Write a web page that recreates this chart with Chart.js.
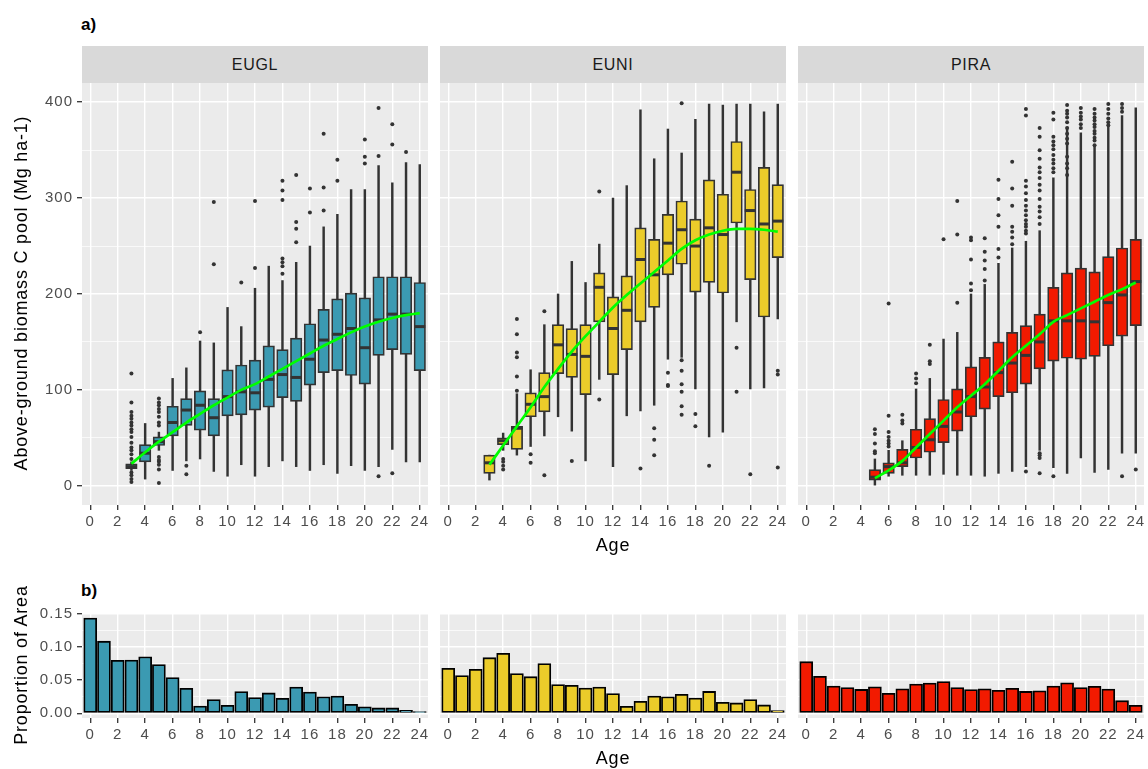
<!DOCTYPE html>
<html lang="en">
<head>
<meta charset="UTF-8">
<title>Above-ground biomass C pool and proportion of area by age</title>
<script src="https://cdn.jsdelivr.net/npm/chart.js@4"></script>
<style>
  body { margin: 0; background: #fff; font-family: "Liberation Sans", Arial, sans-serif; }
  #page { position: relative; width: 1148px; height: 769px; overflow: hidden; }
  canvas { position: absolute; }
  .lbl { position: absolute; white-space: nowrap; line-height: 1; color: #000; }
  .tag { font-weight: bold; font-size: 17px; }
  .title { font-size: 18px; letter-spacing: 0.8px; transform: translate(-50%, -50%); }
  .ytitle { font-size: 18px; letter-spacing: 0.8px; transform: translate(-50%, -50%) rotate(-90deg); }
  .strip { position: absolute; top: 46px; height: 37px; width: 346px; background: #D9D9D9; color: #1A1A1A;
           font-size: 16px; line-height: 37px; text-align: center; letter-spacing: 0.7px; }
</style>
</head>
<body>
<div id="page">
  <canvas id="boxEUGL" width="434" height="457" style="left:0px;top:83px"></canvas>
  <canvas id="boxEUNI" width="358" height="457" style="left:434px;top:83px"></canvas>
  <canvas id="boxPIRA" width="358" height="457" style="left:792px;top:83px"></canvas>
  <canvas id="barEUGL" width="434" height="150" style="left:0px;top:603px"></canvas>
  <canvas id="barEUNI" width="358" height="150" style="left:434px;top:603px"></canvas>
  <canvas id="barPIRA" width="358" height="150" style="left:792px;top:603px"></canvas>

  <div class="lbl tag" style="left:81px;top:16px">a)</div>
  <div class="lbl tag" style="left:81px;top:582px">b)</div>
  <div class="strip" style="left:82px">EUGL</div>
  <div class="strip" style="left:440px">EUNI</div>
  <div class="strip" style="left:798px">PIRA</div>
  <div class="lbl ytitle" style="left:21px;top:293px">Above-ground biomass C pool (Mg ha-1)</div>
  <div class="lbl ytitle" style="left:21px;top:665px">Proportion of Area</div>
  <div class="lbl title" style="left:613px;top:545px">Age</div>
  <div class="lbl title" style="left:613px;top:758px">Age</div>
</div>

<script>
// ---- data ----
const xTicks = [0, 2, 4, 6, 8, 10, 12, 14, 16, 18, 20, 22, 24];
const yTicksTop = [0, 50, 100, 150, 200, 250, 300, 350, 400];
const yTicksBottom = [0, 0.025, 0.05, 0.075, 0.1, 0.125, 0.15];

// EUGL boxplots (age 3..24)
const euglAge = [3,4,5,6,7,8,9,10,11,12,13,14,15,16,17,18,19,20,21,22,23,24];
const euglLo  = [16,7,37,16,26,28,15,10,22,10,20,26,20,16,22,13,21,16,20,38,25,25];
const euglQ1  = [18,25,42,52,63,58,52,73,74,79,82,92,88,105,118,120,115,106,136,142,137,120];
const euglMed = [20,34,46,66,79,84,71,93,98,97,111,116,113,132,152,158,164,144,173,179,179,166];
const euglQ3  = [23,43,51,83,91,99,91,121,126,131,146,142,154,169,184,195,201,196,218,218,218,212];
const euglHi  = [25,65,56,112,123,151,149,186,166,206,229,214,233,250,270,283,309,309,334,316,337,335];
const euglOut = [
  [3, [117,87,77,73,70,66,63,59,56,51,45,40,37,33,28,14,11,7,4]],
  [5, [91,87,84,80,77,72,66,63,30,27,25,22,17,3]],
  [7, [21,12]], [8, [160]], [9, [231,296]], [11, [212]], [12, [227,297]],
  [14, [318,308,298,237,233,229,221]], [15, [324,275,268,254]], [16, [310,285]],
  [17, [367,311,287]], [18, [340,318]], [20, [361,343,336]], [21, [394,344,10]],
  [22, [377,356,13]], [23, [348]]
];
const euglSmooth = [23,35,46,56,66,75,84,92,100,106,114,122,130,138,146,153,160,166,171,175,178,180];

// EUNI boxplots (age 3..24)
const euniAge = [3,4,5,6,7,8,9,10,11,12,13,14,15,16,17,18,19,20,21,22,23,24];
const euniLo  = [6,37,32,41,52,72,57,26,111,20,73,78,84,132,134,101,51,56,171,101,102,174];
const euniQ1  = [13,43,38,72,77,117,113,95,171,116,142,171,186,220,231,202,212,201,274,215,176,238];
const euniMed = [24,47,60,85,93,147,137,135,207,164,183,236,220,253,267,250,269,262,327,287,273,276];
const euniQ3  = [32,50,62,97,118,168,164,168,222,197,219,269,257,283,297,278,319,304,359,309,332,314];
const euniHi  = [32,55,96,121,168,200,234,212,252,300,313,392,341,372,347,382,398,397,398,398,390,398];
const euniOut = [
  [4, [28,25,21,17]], [5, [174,158,139,134,114,99]], [6, [33,24]], [7, [182,11]],
  [9, [26]], [11, [307,90]], [14, [18]], [15, [60,48,32]], [16, [118,105,104]],
  [17, [399,131,120,106,98,83,74]], [18, [75,62]], [19, [21]], [21, [144,98]],
  [22, [12]], [24, [120,116,19]]
];
const euniSmooth = [22,42,62,82,103,122,140,156,171,186,199,211,223,235,247,256,262,266,268,268,267,265];

// PIRA boxplots (age 5..24)
const piraAge = [5,6,7,8,9,10,11,12,13,14,15,16,17,18,19,20,21,22,23,24];
const piraLo  = [0,10,11,11,11,12,11,11,10,13,15,20,37,19,13,29,14,17,34,34];
const piraQ1  = [6,13,20,29,35,45,57,72,80,93,97,106,122,130,133,132,135,146,156,167];
const piraMed = [9,20,24,40,48,62,77,93,103,118,128,136,150,172,172,172,171,191,199,213];
const piraQ3  = [17,24,38,59,70,90,101,124,134,150,160,167,179,207,222,227,223,239,248,257];
const piraHi  = [28,37,47,101,112,153,160,200,210,232,248,255,266,321,374,368,354,375,386,394];
const piraOut = [
  [5, [59,54,44,36,34]], [6, [190,73,56,51,47,44,41]], [7, [74,68,65]],
  [8, [117,112,107]], [9, [147,130,127]], [10, [257]], [11, [297,262,191]],
  [12, [259,256,236,211,204]], [13, [258,244,235,226,214]],
  [14, [319,299,282,270,247,238]], [15, [338,310,292,270,265,259,252]],
  [16, [393,386,318,312,305,298,292,287,282,277,273,270,266,263,15]],
  [17, [373,364,350,341,332,327,321,314,308,299,291,286,280,273,34,32,29,13]],
  [18, [389,382,364,359,355,351,345,340,336,331,327,10]],
  [19, [397,391,388,384,379,373,367,362,357,343,336,331,324]],
  [20, [394,389,385,382,377,373]],
  [21, [393,388,384,381,377,374,370,367,363,360,355]],
  [22, [398,393,388,383,379,376]], [23, [398,394,390,10]], [24, [17]]
];
const piraSmooth = [8,16,26,40,54,68,82,94,106,120,134,146,158,171,178,185,192,199,205,212];

// Proportion of area (age 0..24)
const areaAge  = [0,1,2,3,4,5,6,7,8,9,10,11,12,13,14,15,16,17,18,19,20,21,22,23,24];
const euglArea = [0.144,0.109,0.080,0.0805,0.0855,0.0735,0.054,0.0377,0.011,0.0206,0.012,0.0327,0.0237,0.0307,0.0226,0.0397,0.032,0.025,0.026,0.0136,0.0096,0.008,0.008,0.0045,0.0025];
const euniArea = [0.068,0.057,0.0664,0.084,0.0905,0.060,0.0553,0.075,0.0433,0.0423,0.0382,0.0397,0.0297,0.0106,0.018,0.026,0.025,0.0287,0.023,0.033,0.0166,0.0156,0.0206,0.0126,0.004];
const piraArea = [0.078,0.0558,0.0412,0.0387,0.036,0.040,0.030,0.037,0.044,0.0458,0.048,0.0387,0.0357,0.037,0.0347,0.0377,0.033,0.034,0.041,0.046,0.0387,0.0407,0.0367,0.019,0.012];

// ---- chart setup ----
const FONT = "'Liberation Sans', Arial, sans-serif";
const TICK_FONT = { family: FONT, size: 15 };

const panelBg = {
  id: 'panelBg',
  beforeDraw(chart) {
    const { ctx, chartArea: a } = chart;
    ctx.letterSpacing = '1px';
    ctx.save();
    ctx.fillStyle = '#EBEBEB';
    ctx.fillRect(a.left, a.top, a.right - a.left, a.bottom - a.top);
    ctx.restore();
  }
};

function xAxis() {
  return {
    type: 'linear', min: -0.6, max: 24.6, offset: false, bounds: 'data',
    afterBuildTicks: s => { s.ticks = xTicks.map(v => ({ value: v })); },
    afterFit: s => { s.height = 35; s.paddingLeft = 0; s.paddingRight = 0; },
    ticks: { color: '#4D4D4D', font: TICK_FONT, padding: 3, maxRotation: 0, autoSkip: false,
             callback: v => String(v) },
    grid: { color: '#FFFFFF', lineWidth: 1.4, offset: false, tickLength: 5,
            tickColor: '#333333', tickWidth: 1.3 },
    border: { display: false }
  };
}

function yAxis(min, max, ticks, showY, fmt) {
  return {
    type: 'linear', min: min, max: max, bounds: 'data',
    afterBuildTicks: s => { s.ticks = ticks.map(v => ({ value: v })); },
    afterFit: s => { s.width = showY ? 82 : 0; s.paddingTop = 0; s.paddingBottom = 0; },
    ticks: { display: showY, color: '#4D4D4D', font: TICK_FONT, padding: 4, autoSkip: false,
             callback: (v, i) => (i % 2 === 0 ? fmt(v) : '') },
    grid: { color: '#FFFFFF', lineWidth: c => (c.index % 2 === 0 ? 1.4 : 0.7), drawTicks: showY,
            tickLength: 5, tickWidth: 1.3,
            tickColor: c => (c.index % 2 === 0 ? '#333333' : 'rgba(0,0,0,0)') },
    border: { display: false }
  };
}

function baseOptions(showY, padTop, yMin, yMax, yTicks, fmt) {
  return {
    responsive: false, animation: false, events: [],
    layout: { autoPadding: false, padding: { left: showY ? 0 : 6, right: 6, top: padTop, bottom: 0 } },
    plugins: { legend: { display: false }, tooltip: { enabled: false } },
    scales: { x: xAxis(), y: yAxis(yMin, yMax, yTicks, showY, fmt) }
  };
}

function boxChart(id, ages, lo, q1, med, q3, hi, outliers, smooth, fill, showY) {
  const outPts = [];
  outliers.forEach(([a, vals]) => vals.forEach(v => outPts.push({ x: a, y: v })));
  new Chart(document.getElementById(id), {
    type: 'bar',
    data: {
      datasets: [
        { type: 'line', data: ages.map((a, i) => ({ x: a, y: smooth[i] })), borderColor: '#00FF00',
          borderWidth: 2.7, pointRadius: 0, fill: false, cubicInterpolationMode: 'monotone', order: 0 },
        { type: 'scatter', data: ages.map((a, i) => ({ x: a, y: med[i] })), pointStyle: 'line',
          pointRadius: 5.5, pointBorderWidth: 3, pointBorderColor: '#333333', order: 1 },
        { type: 'bar', data: ages.map((a, i) => ({ x: a, y: [q1[i], q3[i]] })), backgroundColor: fill,
          borderColor: '#333333', borderWidth: 1.7, borderSkipped: false, barThickness: 11.5,
          grouped: false, order: 2 },
        { type: 'scatter', data: outPts, pointRadius: 2, pointBackgroundColor: '#333333',
          pointBorderWidth: 0, order: 3 },
        { type: 'bar', data: ages.map((a, i) => ({ x: a, y: [lo[i], hi[i]] })), backgroundColor: '#333333',
          borderWidth: 0, barThickness: 1.8, grouped: false, order: 4 }
      ]
    },
    options: baseOptions(showY, 0, -20, 420, yTicksTop, v => String(v)),
    plugins: [panelBg]
  });
}

function areaChart(id, values, fill, showY) {
  new Chart(document.getElementById(id), {
    type: 'bar',
    data: {
      datasets: [{ data: areaAge.map((a, i) => ({ x: a, y: values[i] })), backgroundColor: fill,
                   borderColor: '#000000', borderWidth: 1.8, borderSkipped: false, barThickness: 13 }]
    },
    options: baseOptions(showY, 10, -0.0072, 0.1516, yTicksBottom, v => v.toFixed(2)),
    plugins: [panelBg]
  });
}

boxChart('boxEUGL', euglAge, euglLo, euglQ1, euglMed, euglQ3, euglHi, euglOut, euglSmooth, '#3B9AB2', true);
boxChart('boxEUNI', euniAge, euniLo, euniQ1, euniMed, euniQ3, euniHi, euniOut, euniSmooth, '#EBCC2A', false);
boxChart('boxPIRA', piraAge, piraLo, piraQ1, piraMed, piraQ3, piraHi, piraOut, piraSmooth, '#F21A00', false);
areaChart('barEUGL', euglArea, '#3B9AB2', true);
areaChart('barEUNI', euniArea, '#EBCC2A', false);
areaChart('barPIRA', piraArea, '#F21A00', false);
</script>
</body>
</html>
